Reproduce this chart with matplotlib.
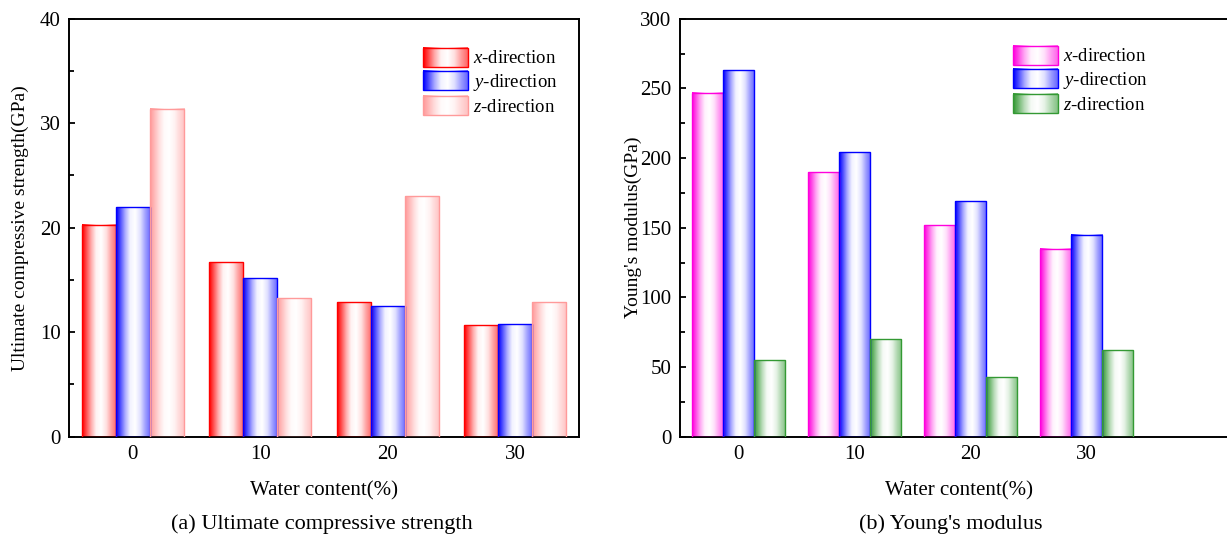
import numpy as np
import matplotlib
matplotlib.use("Agg")
import matplotlib.pyplot as plt
from matplotlib.colors import to_rgb
from matplotlib.patches import Rectangle
from matplotlib.legend_handler import HandlerBase
from matplotlib.image import BboxImage
from matplotlib.transforms import Bbox, TransformedBbox
from matplotlib.ticker import MultipleLocator

plt.rcParams['font.family'] = ['Liberation Serif', 'DejaVu Serif']
plt.rcParams['mathtext.fontset'] = 'custom'
plt.rcParams['mathtext.rm'] = 'Liberation Serif'
plt.rcParams['mathtext.it'] = 'Liberation Serif:italic'

water = [0, 10, 20, 30]
labels = ['$x$-direction', '$y$-direction', '$z$-direction']

strength_x = [20.3, 16.7, 12.9, 10.7]
strength_y = [22.0, 15.2, 12.5, 10.8]
strength_z = [31.4, 13.3, 23.0, 12.9]

modulus_x = [247, 190, 152, 135]
modulus_y = [263, 204, 169, 145]
modulus_z = [55, 70, 43, 62]

colors_a = ['#ff0000', '#0000ff', '#ff9a9a']
colors_b = ['#ff00dd', '#0000ff', '#339933']

# colour strength across a bar, left edge -> right edge
stops_t = [0.0, 0.1, 0.25, 0.4, 0.55, 0.7, 0.85, 1.0]
stops_v = [1.0, 0.75, 0.35, 0.05, 0.0, 0.12, 0.38, 0.6]


def gradient(color, n=64):
    t = np.linspace(0, 1, n)
    k = np.interp(t, stops_t, stops_v)[:, None]
    c = np.array(to_rgb(color))[None, :]
    rgb = 1 - k * (1 - c)
    return rgb[None, :, :]


class GradientHandler(HandlerBase):
    def create_artists(self, legend, orig_handle, xdescent, ydescent,
                       width, height, fontsize, trans):
        color = orig_handle.get_edgecolor()
        bb = TransformedBbox(Bbox.from_bounds(-xdescent, -ydescent, width, height), trans)
        img = BboxImage(bb, interpolation='bilinear')
        img.set_data(gradient(color))
        rect = Rectangle((-xdescent, -ydescent), width, height, fill=False,
                         edgecolor=color, lw=1.0, transform=trans)
        return [img, rect]


def grad_bars(ax, xs, heights, color, width):
    for x, h in zip(xs, heights):
        ax.imshow(gradient(color), extent=[x - width / 2, x + width / 2, 0, h],
                  aspect='auto', interpolation='bilinear', zorder=2)
    return ax.bar(xs, heights, width=width, facecolor='none', edgecolor=color,
                  lw=1.0, zorder=3)


def style(ax, ylim, major, minor):
    ax.set_ylim(*ylim)
    ax.set_xticks(water)
    ax.yaxis.set_major_locator(MultipleLocator(major))
    ax.yaxis.set_minor_locator(MultipleLocator(minor))
    ax.tick_params(axis='both', which='both', direction='in', width=1.3,
                   top=False, right=False, labelsize=15, pad=6)
    ax.tick_params(which='major', length=4.5)
    ax.tick_params(which='minor', length=3.5)
    for s in ax.spines.values():
        s.set_linewidth(1.4)


fig = plt.figure(figsize=(12.27, 5.38), dpi=100)
ax1 = fig.add_axes([69 / 1227, 1 - 436.7 / 538, 510 / 1227, 418 / 538])
ax2 = fig.add_axes([680 / 1227, 1 - 436.7 / 538, 558 / 1227, 418 / 538])

w = 2.67
offsets = [-w, 0, w]
xs = np.array(water, dtype=float)

h1 = []
for off, vals, c in zip(offsets, [strength_x, strength_y, strength_z], colors_a):
    h1.append(grad_bars(ax1, xs + off, vals, c, w))
ax1.set_xlim(-5, 35)
style(ax1, (0, 40), 10, 5)
ax1.set_xlabel('Water content(%)', fontsize=15)
ax1.set_ylabel('Ultimate compressive strength(GPa)', fontsize=14)
ax1.xaxis.set_label_coords(0.5, -0.106)
ax1.yaxis.set_label_coords(-0.078, 0.5)

h2 = []
for off, vals, c in zip(offsets, [modulus_x, modulus_y, modulus_z], colors_b):
    h2.append(grad_bars(ax2, xs + off, vals, c, w))
ax2.set_xlim(-5, 43)
style(ax2, (0, 300), 50, 25)
ax2.set_xlabel('Water content(%)', fontsize=15)
ax2.set_ylabel("Young's modulus(GPa)", fontsize=14)
ax2.xaxis.set_label_coords(0.5, -0.106)
ax2.yaxis.set_label_coords(-0.068, 0.5)

leg_kw = dict(loc='upper left', frameon=False, borderpad=0, borderaxespad=0,
              handlelength=2.4, handleheight=1.2, labelspacing=0.17,
              handletextpad=0.28, fontsize=13.5, bbox_transform=fig.transFigure)
ax1.legend([b.patches[0] for b in h1], labels,
           handler_map={matplotlib.patches.Rectangle: GradientHandler()},
           bbox_to_anchor=(423 / 1227, 1 - 47.5 / 538), **leg_kw)
ax2.legend([b.patches[0] for b in h2], labels,
           handler_map={matplotlib.patches.Rectangle: GradientHandler()},
           bbox_to_anchor=(1013 / 1227, 1 - 45.5 / 538), **leg_kw)

fig.text(322 / 1227, 1 - 524 / 538, '(a) Ultimate compressive strength',
         ha='center', va='center', fontsize=16)
fig.text(951 / 1227, 1 - 524 / 538, "(b) Young's modulus",
         ha='center', va='center', fontsize=16)

fig.savefig('out.png', dpi=100)
